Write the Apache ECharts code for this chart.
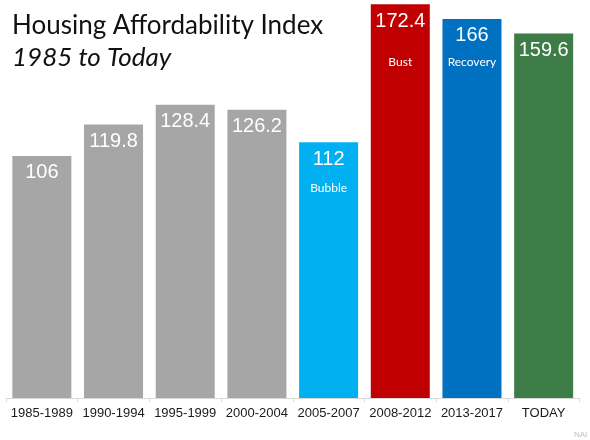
<!DOCTYPE html>
<html>
<head>
<meta charset="utf-8">
<script src="https://cdn.jsdelivr.net/npm/echarts@6/dist/echarts.min.js"></script>
<style>
  html, body { margin: 0; padding: 0; background: #fff; }
  #chart { width: 590px; height: 440px; }
</style>
</head>
<body>
<div id="chart"></div>
<script>
const categories = ['1985-1989', '1990-1994', '1995-1999', '2000-2004', '2005-2007', '2008-2012', '2013-2017', 'TODAY'];
const values = [106, 119.8, 128.4, 126.2, 112, 172.4, 166, 159.6];
const subLabels = ['', '', '', '', 'Bubble', 'Bust', 'Recovery', ''];

// bar fills, one per category
const barColors = ['#a6a6a6', '#a6a6a6', '#a6a6a6', '#a6a6a6', '#00b0f0', '#c00000', '#0070c0', '#3d7c47'];
// space below the value for the sub label (Bust sits lower than the others)
const subLineHeights = [0, 0, 0, 0, 32, 56, 26, 0];

const chart = echarts.init(document.getElementById('chart'), null, { renderer: 'canvas' });

const option = {
    backgroundColor: '#ffffff',
    animation: false,
    grid: { left: 6, right: 10.5, top: 0, bottom: 42 },
    xAxis: {
        type: 'category',
        data: categories,
        axisLine: { lineStyle: { color: '#d9d9d9', width: 1 } },
        axisTick: { show: true, length: 4, lineStyle: { color: '#d9d9d9' } },
        axisLabel: {
            color: '#1a1a1a',
            fontSize: 13,
            fontFamily: 'Liberation Sans, Arial, sans-serif',
            margin: 9,
            interval: 0
        }
    },
    yAxis: {
        type: 'value',
        min: 0,
        max: 174.3,
        show: false,
        splitLine: { show: false }
    },
    series: [
        {
            type: 'bar',
            barWidth: 59,
            data: values.map((v, i) => ({
                value: v,
                itemStyle: { color: barColors[i] },
                label: {
                    rich: {
                        s: {
                            fontSize: 12,
                            color: '#ffffff',
                            fontFamily: 'Lato, Noto Sans, sans-serif',
                            lineHeight: subLineHeights[i] || 14
                        }
                    }
                }
            })),
            label: {
                show: true,
                position: 'insideTop',
                distance: 4,
                formatter: (p) => {
                    const sub = subLabels[p.dataIndex];
                    return sub ? '{v|' + p.value + '}\n{s|' + sub + '}' : '{v|' + p.value + '}';
                },
                rich: {
                    v: {
                        fontSize: 20,
                        color: '#ffffff',
                        fontFamily: 'Liberation Sans, Arial, sans-serif',
                        lineHeight: 26
                    }
                }
            }
        }
    ],
    graphic: [
        {
            type: 'text',
            left: 12,
            top: 13,
            style: {
                text: 'Housing Affordability Index',
                fontSize: 26,
                fontFamily: 'Lato, Open Sans, sans-serif',
                fill: '#111111'
            }
        },
        {
            type: 'text',
            left: 12,
            top: 45,
            style: {
                text: '1985 to Today',
                fontSize: 26,
                fontStyle: 'italic',
                fontFamily: 'Lato, Open Sans, sans-serif',
                fill: '#111111'
            }
        },
        {
            type: 'text',
            left: 574,
            top: 431,
            style: {
                text: 'NAI',
                fontSize: 8,
                fontFamily: 'Liberation Sans, Arial, sans-serif',
                fill: '#c0c0c0'
            }
        }
    ]
};

chart.setOption(option);
</script>
</body>
</html>
